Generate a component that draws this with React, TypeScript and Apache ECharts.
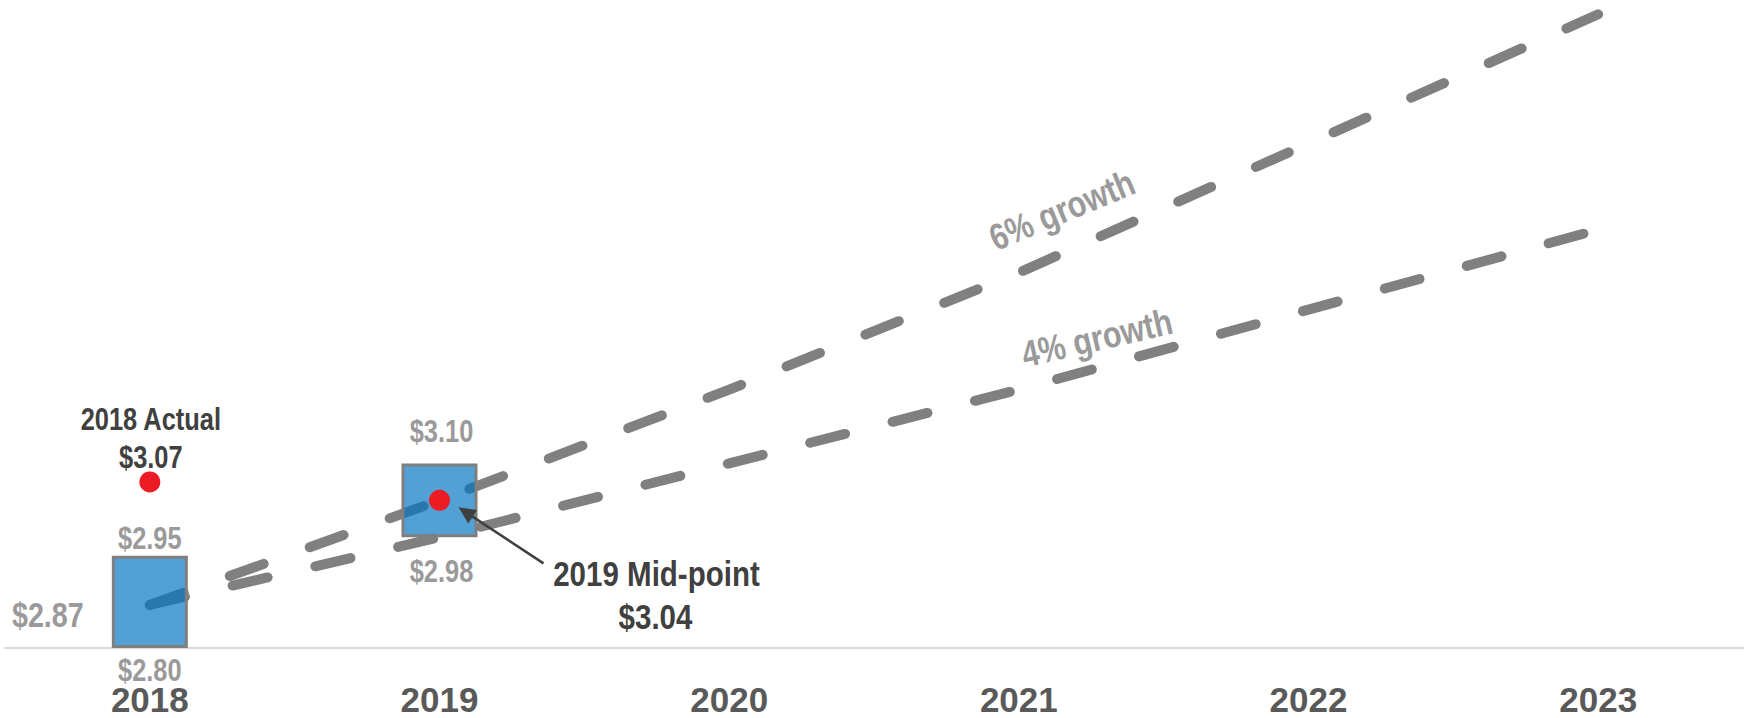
import React, { useEffect, useRef } from "react";
import * as echarts from "echarts";

const years = ["2018", "2019", "2020", "2021", "2022", "2023"];
const growth6 = [2.87, 3.04, 3.22, 3.41, 3.62, 3.83];
const growth4 = [2.87, 2.98, 3.1, 3.22, 3.35, 3.48];
const guidanceLow = [2.8, 2.98];
const guidanceHigh = [2.95, 3.1];
const actual2018 = 3.07;
const midpoint2019 = 3.04;
const startValue = 2.87;
const actualLabel = "2018 Actual";
const midpointLabel = "2019 Mid-point";
const growthLabels = ["6% growth", "4% growth"];

const FONT = '"Liberation Sans", Arial, sans-serif';
const GRAY_TXT = "#9a9a9a";
const DARK_TXT = "#404040";
const NARROW = 0.82;

export default function App() {
  const ref = useRef<HTMLDivElement>(null);
  useEffect(() => {
    document.body.style.margin = "0";
    const chart = echarts.init(ref.current!, undefined, { renderer: "svg" });
    const money = (v: number) => "$" + v.toFixed(2);
    const lineStyle = {
      color: "#808080",
      width: 10,
      type: [36, 49] as any,
      cap: "round" as any,
    };
    chart.setOption({
      animation: false,
      grid: { left: 5, right: 1, top: 2, bottom: 70, containLabel: false },
      xAxis: {
        type: "category",
        data: years,
        boundaryGap: true,
        axisLine: { show: true, lineStyle: { color: "#d9d9d9", width: 2 } },
        axisTick: { show: false },
        axisLabel: {
          color: "#595959",
          fontSize: 35,
          fontWeight: "bold",
          fontFamily: FONT,
          margin: 34,
        },
        splitLine: { show: false },
      },
      yAxis: {
        type: "value",
        min: 2.8,
        max: 3.85,
        show: false,
        splitLine: { show: false },
      },
      series: [
        { name: growthLabels[0], type: "line", data: growth6, symbol: "none", lineStyle, z: 1 },
        { name: growthLabels[1], type: "line", data: growth4, symbol: "none", lineStyle, z: 1 },
        {
          name: "base",
          type: "bar",
          stack: "guide",
          data: guidanceLow,
          barWidth: 76,
          itemStyle: { color: "transparent" },
          silent: true,
          z: 3,
        },
        {
          name: "guidance",
          type: "bar",
          stack: "guide",
          data: guidanceHigh.map((h, i) => +(h - guidanceLow[i]).toFixed(2)),
          barWidth: 76,
          itemStyle: {
            color: "rgba(0,115,192,0.68)",
            borderColor: "#7f7f7f",
            borderWidth: 3,
          },
          z: 3,
        },
        {
          name: "points",
          type: "scatter",
          symbolSize: 21,
          itemStyle: { color: "#ED1C24", opacity: 1 },
          z: 6,
          data: [
            [0, actual2018],
            [1, midpoint2019],
          ],
        },
      ],
    });

    const px = (i: number, v: number) =>
      chart.convertToPixel({ xAxisIndex: 0, yAxisIndex: 0 }, [i, v]) as number[];

    const txt = (
      text: string,
      x: number,
      y: number,
      size: number,
      color: string,
      rotationDeg = 0
    ) => ({
      type: "text",
      x,
      y,
      scaleX: NARROW,
      rotation: (rotationDeg * Math.PI) / 180,
      z: 10,
      style: {
        text,
        font: `bold ${size}px ${FONT}`,
        fill: color,
        align: "center",
        verticalAlign: "middle",
        textAlign: "center",
        textVerticalAlign: "middle",
      },
    });

    const graphics: any[] = [];
    // guidance range labels
    guidanceHigh.forEach((h, i) => {
      const p = px(i, h);
      graphics.push(txt(money(h), p[0] + (i === 1 ? 2 : 0), p[1] + (i === 1 ? -32 : -18), 31, GRAY_TXT));
    });
    guidanceLow.forEach((l, i) => {
      const p = px(i, l);
      graphics.push(txt(money(l), p[0] + (i === 1 ? 2 : 0), p[1] + (i === 1 ? 34 : 22), 31, GRAY_TXT));
    });
    // start value
    const ps = px(0, startValue);
    graphics.push(txt(money(startValue), ps[0] - 102, ps[1] + 10, 35, GRAY_TXT));
    // 2018 actual
    const pa = px(0, actual2018);
    graphics.push(txt(actualLabel, pa[0] + 1, pa[1] - 63, 31, DARK_TXT));
    graphics.push(txt(money(actual2018), pa[0] + 1, pa[1] - 25, 31, DARK_TXT));
    // 2019 midpoint
    const dot = px(1, midpoint2019);
    graphics.push(txt(midpointLabel, dot[0] + 217, dot[1] + 73.5, 36, DARK_TXT));
    graphics.push(txt(money(midpoint2019), dot[0] + 216, dot[1] + 116.5, 36, DARK_TXT));
    // growth labels
    const p6 = px(3, growth6[3]);
    const p4 = px(3, growth4[3]);
    graphics.push(txt(growthLabels[0], p6[0] + 43, p6[1] - 63, 37, GRAY_TXT, 22.5));
    graphics.push(txt(growthLabels[1], p4[0] + 78, p4[1] - 52, 37, GRAY_TXT, 13));

    // arrow
    const S = [dot[0] + 104, dot[1] + 63];
    const T = [dot[0] + 19, dot[1] + 7];
    const dx = T[0] - S[0];
    const dy = T[1] - S[1];
    const len = Math.hypot(dx, dy);
    const u = [dx / len, dy / len];
    const n = [-u[1], u[0]];
    const headLen = 17;
    const headHalf = 8;
    const B = [T[0] - u[0] * headLen, T[1] - u[1] * headLen];
    graphics.push({
      type: "line",
      shape: { x1: S[0], y1: S[1], x2: B[0] + u[0] * 2, y2: B[1] + u[1] * 2 },
      style: { stroke: DARK_TXT, lineWidth: 2.5 },
      z: 10,
    });
    graphics.push({
      type: "polygon",
      shape: {
        points: [
          [T[0], T[1]],
          [B[0] + n[0] * headHalf, B[1] + n[1] * headHalf],
          [B[0] - n[0] * headHalf, B[1] - n[1] * headHalf],
        ],
      },
      style: { fill: DARK_TXT },
      z: 10,
    });

    chart.setOption({ graphic: graphics });
    return () => chart.dispose();
  }, []);
  return <div ref={ref} style={{ width: 1744, height: 718 }} />;
}
